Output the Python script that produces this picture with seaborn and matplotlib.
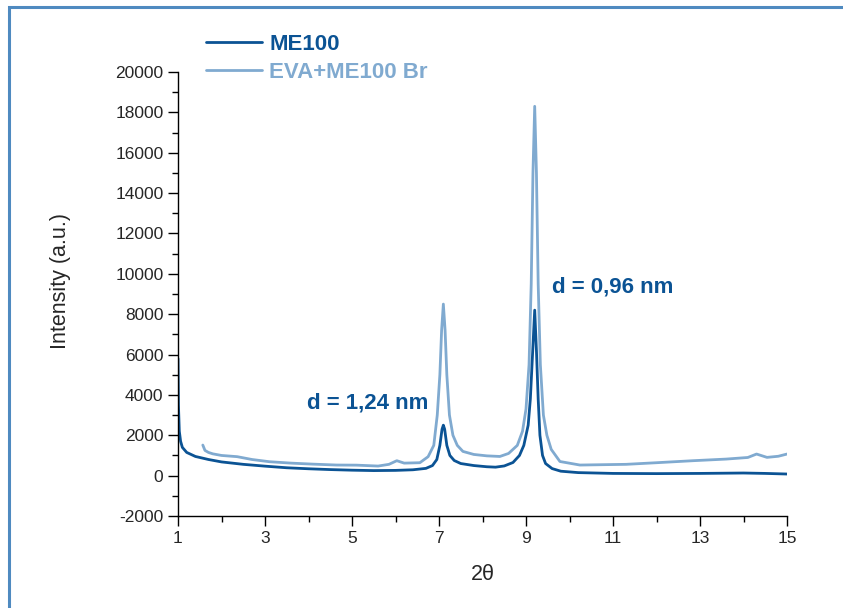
import numpy as np
import pandas as pd
import matplotlib
matplotlib.use("Agg")
import matplotlib.pyplot as plt
import seaborn as sns
from matplotlib.patches import Rectangle
from matplotlib.ticker import FixedLocator, MultipleLocator

# ------------------------------------------------------------------
# data (2theta, intensity)
# ------------------------------------------------------------------
me100_x = [1.0, 1.01, 1.03, 1.06, 1.1, 1.2, 1.4, 1.7, 2.0, 2.5, 3.0, 3.5, 4.0,
           4.5, 5.0, 5.5, 6.0, 6.4, 6.7, 6.85, 6.95, 7.02, 7.07, 7.1, 7.13,
           7.18, 7.25, 7.35, 7.5, 7.8, 8.1, 8.3, 8.5, 8.7, 8.85, 8.95, 9.05,
           9.1, 9.15, 9.2, 9.24, 9.28, 9.32, 9.38, 9.45, 9.6, 9.8, 10.2, 11.0,
           12.0, 13.0, 14.0, 14.5, 15.0]
me100_y = [5800, 3500, 2200, 1700, 1400, 1150, 950, 800, 680, 560, 470, 390, 340,
           300, 270, 250, 260, 290, 360, 500, 800, 1500, 2300, 2500, 2300,
           1500, 1000, 750, 600, 500, 440, 420, 480, 650, 1000, 1500, 2500,
           3800, 6000, 8200, 6200, 3800, 2000, 1000, 600, 350, 220, 150, 110,
           100, 110, 130, 110, 80]

eva_x = [1.57, 1.62, 1.7, 1.8, 2.0, 2.36, 2.7, 3.1, 3.6, 4.1, 4.65, 5.1, 5.6,
         5.85, 6.03, 6.2, 6.56, 6.75, 6.88, 6.96, 7.02, 7.06, 7.1, 7.14, 7.18,
         7.24, 7.32, 7.42, 7.55, 7.8, 8.1, 8.4, 8.6, 8.8, 8.92, 9.0, 9.07,
         9.12, 9.16, 9.2, 9.24, 9.28, 9.33, 9.4, 9.48, 9.58, 9.78, 10.24,
         11.3, 12.0, 12.84, 13.6, 14.1, 14.3, 14.54, 14.8, 15.0]
eva_y = [1515, 1250, 1150, 1080, 1000, 940, 800, 690, 620, 570, 525, 520, 475,
         560, 740, 620, 640, 940, 1500, 3000, 5000, 7200, 8500, 7200, 5000,
         3000, 2000, 1500, 1200, 1050, 980, 950, 1100, 1500, 2200, 3300, 5500,
         9500, 15000, 18300, 15000, 9500, 5500, 3000, 2000, 1300, 700, 525,
         560, 640, 740, 820, 900, 1070, 905, 960, 1070]

series_names = ["ME100", "EVA+ME100 Br"]
colors = ["#0b5394", "#80aad0"]
x_ticks = [1, 3, 5, 7, 9, 11, 13, 15]

df = pd.concat([
    pd.DataFrame({"two_theta": me100_x, "intensity": me100_y, "sample": series_names[0]}),
    pd.DataFrame({"two_theta": eva_x, "intensity": eva_y, "sample": series_names[1]}),
])

# ------------------------------------------------------------------
# plot
# ------------------------------------------------------------------
sns.set_style("ticks")
plt.rcParams["font.family"] = ["Liberation Sans", "DejaVu Sans"]
plt.rcParams["axes.unicode_minus"] = False

fig = plt.figure(figsize=(8.43, 6.08), dpi=100)
ax = fig.add_axes([178 / 843, 1 - 516 / 608, (787 - 178) / 843, (516 - 72) / 608])

sns.lineplot(data=df, x="two_theta", y="intensity", hue="sample",
             hue_order=series_names[::-1], palette=colors[::-1],
             estimator=None, sort=True, linewidth=2.0, ax=ax)

ax.set_xlim(1, 15)
ax.set_ylim(-2000, 20000)
ax.xaxis.set_major_locator(FixedLocator(x_ticks))
ax.xaxis.set_minor_locator(MultipleLocator(1))
ax.yaxis.set_major_locator(MultipleLocator(2000))
ax.yaxis.set_minor_locator(MultipleLocator(1000))
ax.tick_params(which="major", length=7, width=1, labelsize=12.5, color="black")
ax.tick_params(which="minor", length=4, width=1, color="black")
for s in ["left", "bottom"]:
    ax.spines[s].set_linewidth(1)
    ax.spines[s].set_color("black")
sns.despine(ax=ax)

ax.set_xlabel("2θ", fontsize=15.5, labelpad=13)
ax.set_ylabel("Intensity (a.u.)", fontsize=15.5)
ax.yaxis.set_label_coords(-0.175, 0.53)

# annotations
ax.text(6.75, 3600, "d = 1,24 nm", color=colors[0], fontsize=16,
        fontweight="bold", ha="right", va="center")
ax.text(9.6, 9340, "d = 0,96 nm", color=colors[0], fontsize=16,
        fontweight="bold", ha="left", va="center")

# legend: ME100 first
handles, labels = ax.get_legend_handles_labels()
order = [labels.index(n) for n in series_names]
leg = ax.legend([handles[i] for i in order], [labels[i] for i in order],
                loc="upper left", bbox_to_anchor=(206 / 843, 1 - 34 / 608),
                bbox_transform=fig.transFigure, frameon=False,
                fontsize=16, handlelength=2.5, handletextpad=0.35,
                labelspacing=0.3, borderaxespad=0, borderpad=0)
for txt, c in zip(leg.get_texts(), colors):
    txt.set_color(c)
    txt.set_fontweight("bold")

# outer frame of the figure panel
fig.patches.append(Rectangle((9 / 843, -0.1), 1.2, 1.1 - 7 / 608,
                             transform=fig.transFigure, fill=False,
                             edgecolor="#4f8ac0", linewidth=2.2))

fig.savefig("out.png", dpi=100)
